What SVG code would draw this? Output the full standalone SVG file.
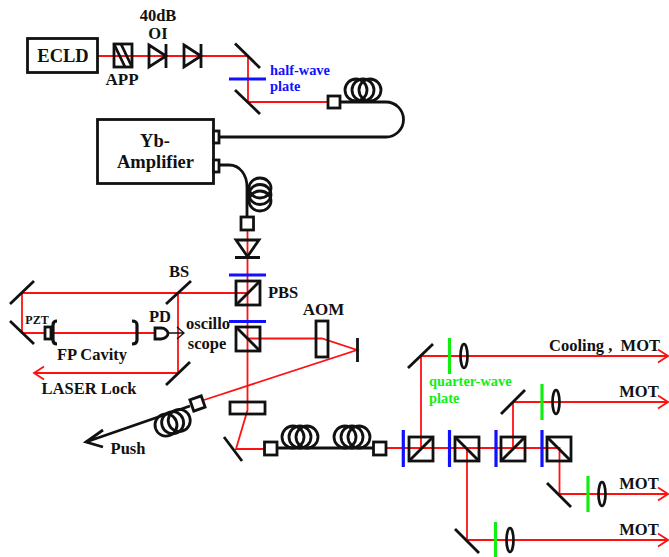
<svg xmlns="http://www.w3.org/2000/svg" xmlns:xlink="http://www.w3.org/1999/xlink" width="669" height="557" viewBox="0 0 669 557">
<style>
text{font-family:"Liberation Serif","Times New Roman",serif;font-weight:bold;fill:#111;font-size:16.500px;white-space:pre}
.r{fill:none;stroke:#f11;stroke-width:1.800}
.k{fill:none;stroke:#111;stroke-width:2.800}
.kf{fill:#fff;stroke:#111;stroke-width:2.800}
.f{fill:none;stroke:#111;stroke-width:2.800}
.b{fill:none;stroke:#11f;stroke-width:3.200}
.g{fill:none;stroke:#1e1;stroke-width:3.200}
.l{fill:none;stroke:#111;stroke-width:2.700}
.bt{font-size:14.400px}
</style>
<defs>
<g id="coil"><ellipse cx="0" cy="0" rx="11" ry="11" class="k"/><ellipse cx="7" cy="0" rx="11" ry="11" class="k"/><ellipse cx="14" cy="0" rx="11" ry="11" class="k"/></g>
<g id="cubeA"><rect x="0" y="0" width="24" height="24" class="k"/><path d="M0 24L24 0" class="k"/></g>
<g id="cubeB"><rect x="0" y="0" width="24" height="24" class="k"/><path d="M0 0L24 24" class="k"/></g>
<path id="hd" d="M-10 -6.500L0 0L-10 6.500" fill="none" stroke="#f11" stroke-width="1.800"/>
</defs>
<g id="connectors">
<path class="r" d="M98 56H248V102H330"/>
<path class="r" d="M247.500 231V410L236 449H266"/>
<path class="r" d="M248 293H22V333H155"/>
<path class="r" d="M178 293V373H34"/>
<use xlink:href="#hd" transform="translate(34,373) rotate(180)"/>
<path class="r" d="M248 338.500H322L357 350L204 400"/>
<path class="r" d="M386 448H559.500V494H668"/>
<path class="r" d="M421 448V356H668"/><use xlink:href="#hd" transform="translate(668,356)"/>
<path class="r" d="M513 448V402H668"/><use xlink:href="#hd" transform="translate(668,402)"/>
<use xlink:href="#hd" transform="translate(668,494)"/>
<path class="r" d="M467 448V540H668"/><use xlink:href="#hd" transform="translate(668,540)"/>
<path class="f" d="M340 102H386A17.500 17.500 0 0 1 386 137H219"/>
<path class="f" d="M219 165H229C240 165 247 175 247 187V217"/>
<path class="f" d="M190 406L86 442M103 430L86 442L103 447"/>
<path class="f" d="M277 448H373"/>
<path d="M167 333H184M177 327L184 333L177 339" style="fill:none;stroke:#111;stroke-width:1.300"/>
</g>
<g id="ecld"><rect x="27.500" y="38.500" width="70" height="34" class="k"/><text x="63" y="62" text-anchor="middle" style="font-size:18.500px">ECLD</text></g>
<g id="app"><rect x="114" y="44" width="18" height="23" class="k"/><path class="k" d="M121 44L132 67M114 44L125 67"/><text x="122" y="85" text-anchor="middle" style="font-size:17px">APP</text></g>
<g id="oi1"><path class="k" d="M149 45L166 56L149 67ZM166 44V68"/><text x="158" y="21" text-anchor="middle">40dB</text><text x="158" y="39" text-anchor="middle">OI</text></g>
<g id="oi2"><path class="k" d="M184 45L201 56L184 67ZM201 44V68"/></g>
<g id="m1"><path class="k" d="M235 43.500L260 68"/></g>
<g id="hwp"><path class="b" d="M229 79H266"/><text x="270" y="75" style="fill:#11f;font-size:14.400px">half-wave</text><text x="270" y="91" style="fill:#11f;font-size:14.400px">plate</text></g>
<g id="m2"><path class="k" d="M235 90L260 114"/></g>
<g id="coil1"><use xlink:href="#coil" transform="translate(356,90)"/></g>
<g id="fc1"><rect x="328" y="96" width="12" height="12" class="kf"/></g>
<g id="yb"><rect x="97.500" y="119.500" width="116" height="64" class="k"/><rect x="213.500" y="131" width="5.500" height="12" class="kf"/><rect x="213.500" y="160" width="5.500" height="12" class="kf"/><text x="155" y="147" text-anchor="middle" style="font-size:18.500px">Yb-</text><text x="155.500" y="168" text-anchor="middle" style="font-size:18.500px">Amplifier</text></g>
<g id="coil2"><ellipse cx="260" cy="188" rx="11" ry="10" class="k"/><ellipse cx="260" cy="194.500" rx="11" ry="10" class="k"/><ellipse cx="260" cy="201" rx="11" ry="10" class="k"/></g>
<g id="fc2"><rect x="241" y="217" width="12.500" height="13" class="kf"/></g>
<g id="oi3"><path class="k" d="M236 240H259L247.500 256.500ZM235 257.500H260"/></g>
<g id="pbs"><path class="b" d="M229 275H266"/><use xlink:href="#cubeA" x="236" y="281"/><text x="268" y="298">PBS</text></g>
<g id="pbs2"><path class="b" d="M229 321.500H266"/><use xlink:href="#cubeB" x="236" y="327"/></g>
<g id="osc"><text x="208" y="329" text-anchor="middle">oscillo</text><text x="207" y="349" text-anchor="middle">scope</text></g>
<g id="bs"><path class="k" d="M166 304L191 281"/><text x="179" y="277" text-anchor="middle">BS</text></g>
<g id="lm1"><path class="k" d="M10 304L34 281"/></g>
<g id="lm2"><path class="k" d="M10 321L34 344"/></g>
<g id="bsm"><path class="k" d="M166 385L190 362"/></g>
<g id="pzt"><rect x="45" y="327" width="6" height="12" class="kf"/><text x="37" y="324" text-anchor="middle" style="font-size:12px">PZT</text></g>
<g id="fp"><path class="k" d="M57 321Q53 321 53 325V340Q53 344 57 344M132 321Q137 321 137 325V340Q137 344 132 344" style="stroke-width:3.200"/><text x="92" y="360" text-anchor="middle">FP Cavity</text></g>
<g id="pd"><path class="kf" d="M155 328H161C165 328 168 331 168 333.500C168 336 165 339 161 339H155Z"/><text x="160" y="322" text-anchor="middle">PD</text></g>
<g id="lock"><text x="89" y="394" text-anchor="middle">LASER Lock</text></g>
<g id="aom"><rect x="316" y="321" width="12" height="36" class="k"/><text x="323.500" y="315" text-anchor="middle" style="font-size:17px">AOM</text></g>
<g id="vm"><path class="k" d="M357.500 338V362"/></g>
<g id="el"><rect x="230" y="402" width="35" height="12" class="k"/></g>
<g id="m3"><path class="k" d="M224 437L242 461"/></g>
<g id="fc3"><rect x="191.500" y="397.500" width="12" height="12" class="kf" transform="rotate(-19 197.500 403.500)"/></g>
<g id="coil3"><use xlink:href="#coil" transform="translate(166,425) rotate(-19)"/></g>
<text x="128" y="454" text-anchor="middle">Push</text>
<g id="fc4"><rect x="264.500" y="442" width="12.500" height="13" class="kf"/></g>
<g id="coil4"><use xlink:href="#coil" transform="translate(293,437)"/></g>
<g id="coil5"><use xlink:href="#coil" transform="translate(345,437)"/></g>
<g id="fc5"><rect x="373.500" y="442" width="12.500" height="13" class="kf"/></g>
<g id="c1"><path class="b" d="M403.300 430V467"/><use xlink:href="#cubeA" x="409" y="437"/></g>
<g id="c2"><path class="b" d="M449.500 430V467"/><use xlink:href="#cubeB" x="455" y="437"/></g>
<g id="c3"><path class="b" d="M496 430V467"/><use xlink:href="#cubeA" x="501" y="437"/></g>
<g id="c4"><path class="b" d="M542 430V467"/><use xlink:href="#cubeB" x="547" y="437"/></g>
<g id="o1"><path class="k" d="M408 368L433 344"/><path class="g" d="M449.500 338V374"/><ellipse cx="464" cy="356" rx="3.500" ry="12" class="l"/><text x="660" y="351" text-anchor="end">Cooling ,  MOT</text><text x="429" y="386" style="fill:#1e1;font-size:14.400px">quarter-wave</text><text x="429" y="403" style="fill:#1e1;font-size:14.400px">plate</text></g>
<g id="o2"><path class="k" d="M501 414L525 390"/><path class="g" d="M542 384V420"/><ellipse cx="556" cy="402" rx="3.500" ry="12" class="l"/><text x="639" y="397" text-anchor="middle">MOT</text></g>
<g id="o3"><path class="k" d="M547 483L571 507"/><path class="g" d="M588 476V512"/><ellipse cx="602" cy="494" rx="3.500" ry="12" class="l"/><text x="639" y="489" text-anchor="middle">MOT</text></g>
<g id="o4"><path class="k" d="M455 529L479 553"/><path class="g" d="M495.500 522V557"/><ellipse cx="510" cy="540" rx="3.500" ry="12" class="l"/><text x="639" y="535" text-anchor="middle">MOT</text></g>
</svg>
